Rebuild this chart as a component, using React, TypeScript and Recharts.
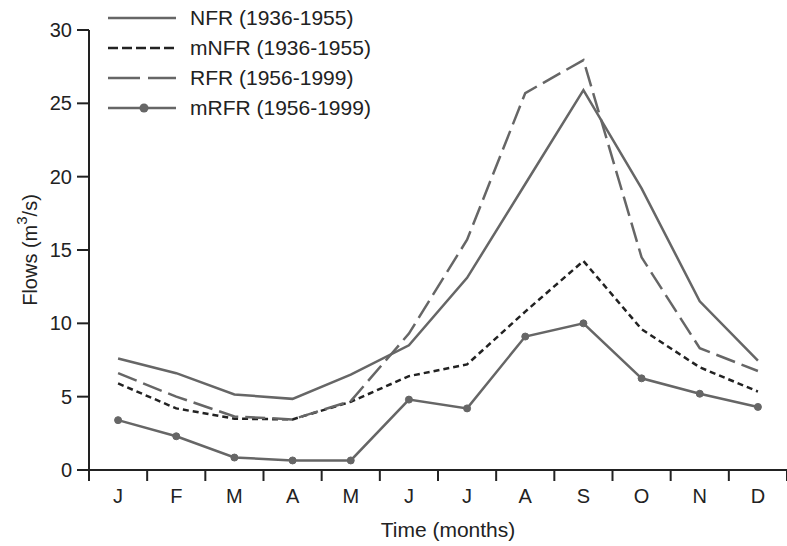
import React from 'react';
import { LineChart, Line, XAxis, YAxis } from 'recharts';

const months = ['J', 'F', 'M', 'A', 'M', 'J', 'J', 'A', 'S', 'O', 'N', 'D'];
const nfr = [7.6, 6.6, 5.15, 4.85, 6.5, 8.5, 13.1, 19.5, 25.9, 19.2, 11.5, 7.45];
const mnfr = [5.9, 4.2, 3.5, 3.45, 4.65, 6.4, 7.2, 10.8, 14.25, 9.6, 7.0, 5.35];
const rfr = [6.6, 5.0, 3.65, 3.45, 4.7, 9.3, 15.7, 25.7, 27.95, 14.5, 8.3, 6.75];
const mrfr = [3.4, 2.3, 0.85, 0.65, 0.65, 4.8, 4.2, 9.1, 10.0, 6.25, 5.2, 4.3];
const yTicks = [0, 5, 10, 15, 20, 25, 30];

const data = months.map((m, i) => ({
    key: i,
    month: m,
    nfr: nfr[i],
    mnfr: mnfr[i],
    rfr: rfr[i],
    mrfr: mrfr[i],
}));

const W = 787;
const H = 546;
const AXIS_W = 89;
const BAND = (W - AXIS_W) / months.length;
const FONT = '"Liberation Sans", Arial, sans-serif';
const LINE = '#666';
const INK = '#222';

const series = [
    { key: 'nfr', name: 'NFR (1936-1955)', color: LINE, dash: undefined, legendDash: undefined, dot: false },
    { key: 'mnfr', name: 'mNFR (1936-1955)', color: INK, dash: '6 4', legendDash: '10 4', dot: false },
    { key: 'rfr', name: 'RFR (1956-1999)', color: LINE, dash: '20 7', legendDash: '32 8', dot: false },
    { key: 'mrfr', name: 'mRFR (1956-1999)', color: LINE, dash: undefined, legendDash: undefined, dot: true },
];

// month label in the middle of the band, tick marks on the band edges
const MonthTick = (props: any) => {
    const { x, y, payload, index } = props;
    const half = BAND / 2;
    return (
        <g>
            <line x1={x - half} x2={x - half} y1={y} y2={y + 11} stroke={INK} strokeWidth={2} />
            {index === months.length - 1 && (
                <line x1={x + half} x2={x + half} y1={y} y2={y + 11} stroke={INK} strokeWidth={2} />
            )}
            <text x={x} y={y + 33} textAnchor="middle" fontSize={20} fill={INK} fontFamily={FONT}>
                {months[payload.value]}
            </text>
        </g>
    );
};

// rotated y label with a real superscript 3
const FlowsLabel = (props: any) => {
    const { x, y, width, height } = props.viewBox;
    const cx = x + width / 2 - 15;
    const cy = y + height / 2;
    return (
        <text x={cx} y={cy} transform={`rotate(-90 ${cx} ${cy})`} textAnchor="middle" dominantBaseline="central"
            fontSize={20} fill={INK} fontFamily={FONT}>
            Flows (m<tspan baselineShift="super" fontSize={15}>3</tspan>/s)
        </text>
    );
};

// legend sits over the top-left of the plot, kept out of the chart layout
const LegendBox = () => (
    <div style={{ position: 'absolute', top: 3, left: 108, fontFamily: FONT, fontSize: 21, color: INK }}>
        {series.map(s => (
            <div key={s.key} style={{ display: 'flex', alignItems: 'center', height: 30 }}>
                <svg width={68} height={12} style={{ marginRight: 14 }}>
                    <line x1={0} x2={68} y1={6} y2={6} stroke={s.color} strokeWidth={2.5} strokeDasharray={s.legendDash} />
                    {s.dot && <circle cx={36} cy={6} r={4.5} fill={LINE} />}
                </svg>
                <span>{s.name}</span>
            </div>
        ))}
    </div>
);

export default function App() {
    return (
        <div style={{ position: 'relative', width: W, height: H, fontFamily: FONT }}>
            <style>{'body{margin:0}'}</style>
            <LineChart width={W} height={H} data={data} margin={{ top: 30, right: 0, left: 0, bottom: 0 }}>
                <XAxis
                    dataKey="key"
                    height={76}
                    padding={{ left: BAND / 2, right: BAND / 2 }}
                    axisLine={{ stroke: INK, strokeWidth: 2 }}
                    tickLine={false}
                    tickSize={0}
                    tickMargin={0}
                    interval={0}
                    tick={<MonthTick />}
                    label={{ value: 'Time (months)', position: 'insideBottom', offset: 9, dx: 10, fontSize: 21, fill: INK, fontFamily: FONT }}
                />
                <YAxis
                    width={AXIS_W}
                    domain={[0, 30]}
                    ticks={yTicks}
                    axisLine={{ stroke: INK, strokeWidth: 2 }}
                    tickLine={{ stroke: INK, strokeWidth: 2 }}
                    tickSize={12}
                    tickMargin={5}
                    tick={{ fontSize: 20, fill: INK, fontFamily: FONT }}
                    label={<FlowsLabel />}
                />
                {series.map(s => (
                    <Line
                        key={s.key}
                        dataKey={s.key}
                        name={s.name}
                        type="linear"
                        stroke={s.color}
                        strokeWidth={2.5}
                        strokeDasharray={s.dash}
                        dot={s.dot ? { r: 3.5, fill: LINE, stroke: LINE, strokeWidth: 1 } : false}
                        activeDot={false}
                        isAnimationActive={false}
                    />
                ))}
            </LineChart>
            <LegendBox />
        </div>
    );
}
